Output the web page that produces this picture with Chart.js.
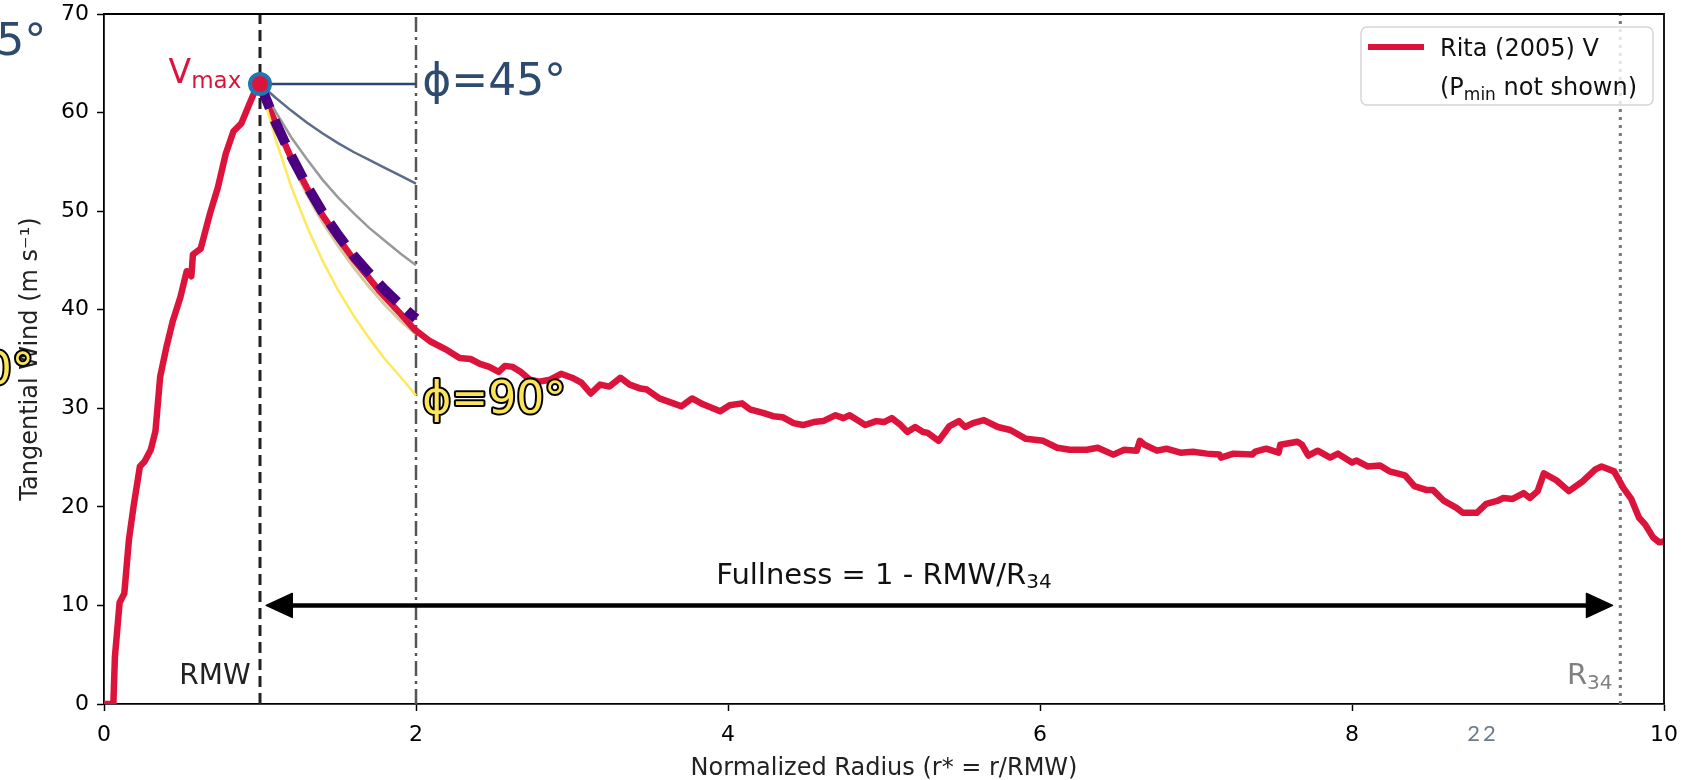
<!DOCTYPE html>
<html>
<head>
<meta charset="utf-8">
<script src="https://cdn.jsdelivr.net/npm/chart.js@4.4.1/dist/chart.umd.min.js"></script>
<style>
  html, body { margin: 0; padding: 0; background: #fff; }
  #wrap { width: 1685px; height: 780px; }
</style>
</head>
<body>
<div id="wrap"><canvas id="windChart" width="1685" height="780"></canvas></div>
<script>
// Rita (2005) tangential wind vs normalized radius
const ritaR = [0, 0.03, 0.06, 0.07, 0.10, 0.13, 0.16, 0.19, 0.23, 0.26, 0.30, 0.33, 0.36, 0.40, 0.44, 0.49, 0.53, 0.56, 0.57, 0.62, 0.68, 0.73, 0.78, 0.83, 0.88, 0.93, 0.97, 1.00,
  1.10, 1.20, 1.30, 1.40, 1.50, 1.60, 1.70, 1.76, 1.80, 1.90, 1.99,
  2.09, 2.20, 2.28, 2.35, 2.41, 2.47, 2.53, 2.57, 2.62, 2.67, 2.73, 2.79, 2.86, 2.93, 3.00, 3.06, 3.12, 3.18, 3.24, 3.31, 3.37, 3.44, 3.48, 3.56, 3.65, 3.70, 3.77, 3.84, 3.95, 4.01, 4.09, 4.14, 4.23, 4.29, 4.35,
  4.42, 4.48, 4.55, 4.61, 4.69, 4.74, 4.78, 4.88, 4.95, 5.00, 5.05, 5.10, 5.15, 5.20, 5.25, 5.28, 5.35, 5.42, 5.48, 5.52, 5.57, 5.64, 5.73, 5.81, 5.91, 6.02, 6.11, 6.19, 6.30, 6.37, 6.47, 6.54, 6.62, 6.64, 6.67, 6.75, 6.81, 6.90, 6.98,
  7.07, 7.15, 7.16, 7.24, 7.36, 7.38, 7.45, 7.53, 7.54, 7.65, 7.68, 7.72, 7.78, 7.86, 7.91, 8.00, 8.03, 8.10, 8.18, 8.24, 8.34, 8.40, 8.48, 8.52, 8.59, 8.67, 8.71, 8.80, 8.86, 8.93, 8.97, 9.03, 9.10, 9.14, 9.19, 9.23, 9.31, 9.39, 9.48, 9.56, 9.60, 9.68, 9.74, 9.79, 9.84, 9.88, 9.93, 9.97, 10.0];
const ritaV = [0, 0, 0, 4.8, 10.3, 11.2, 16.7, 20.1, 24.1, 24.6, 25.8, 27.7, 33.2, 36.2, 38.8, 41.3, 43.9, 43.4, 45.6, 46.2, 49.8, 52.4, 55.8, 58.1, 58.9, 60.8, 62.3, 62.9,
  58.9, 55.4, 52.4, 49.6, 47.3, 45.1, 43.2, 42.0, 41.3, 39.6, 38.0,
  36.8, 35.9, 35.1, 35.0, 34.5, 34.2, 33.7, 34.3, 34.2, 33.7, 32.9, 32.7, 32.9, 33.5, 33.1, 32.6, 31.5, 32.4, 32.2, 33.1, 32.4, 32.0, 31.9, 31.0, 30.5, 30.2, 31.0, 30.4, 29.7, 30.3, 30.5, 29.9, 29.5, 29.2, 29.1,
  28.5, 28.3, 28.6, 28.7, 29.3, 29.0, 29.3, 28.3, 28.7, 28.6, 29.0, 28.4, 27.6, 28.1, 27.6, 27.5, 26.7, 28.2, 28.7, 28.1, 28.5, 28.8, 28.1, 27.8, 26.9, 26.7, 26.0, 25.8, 25.8, 26.0, 25.3, 25.8, 25.7, 26.7, 26.3, 25.7, 25.9, 25.5, 25.6,
  25.4, 25.3, 25.0, 25.4, 25.3, 25.6, 25.9, 25.5, 26.3, 26.6, 26.3, 25.2, 25.7, 25.0, 25.4, 24.5, 24.7, 24.1, 24.2, 23.6, 23.2, 22.1, 21.7, 21.7, 20.6, 19.9, 19.4, 19.4, 20.3, 20.6, 20.9, 20.8, 21.4, 20.9, 21.6, 23.4, 22.7, 21.6, 22.6, 23.8, 24.1, 23.6, 21.9, 20.8, 18.9, 18.2, 16.9, 16.4, 16.5];

// decay curves between RMW and 2 RMW
const phiR = [1.0, 1.1, 1.2, 1.3, 1.4, 1.5, 1.6, 1.7, 1.8, 1.9, 2.0];
const slateV = [62.9, 61.5, 60.2, 59.0, 57.9, 56.9, 56.0, 55.2, 54.4, 53.6, 52.8];
const greyV = [62.9, 60.1, 57.5, 55.3, 53.2, 51.4, 49.8, 48.3, 47.0, 45.7, 44.5];
const tanV = [62.9, 58.7, 54.9, 51.7, 48.9, 46.5, 44.3, 42.3, 40.5, 38.9, 37.5];
const fitV = [62.9, 59.0, 55.6, 52.6, 49.9, 47.6, 45.5, 43.7, 42.0, 40.5, 39.1];
const yellowV = [62.9, 57.3, 52.5, 48.5, 45.0, 42.0, 39.4, 37.1, 35.0, 33.2, 31.3];

const vmax = { r: 1.0, v: 62.9 };
const rmw = 1.0;
const twoRmw = 2.0;
const r34 = 9.72;
const arrowSpan = [1.04, 9.67];
const arrowLevel = 10;

const xTicks = [0, 2, 4, 6, 8, 10];
const yTicks = [0, 10, 20, 30, 40, 50, 60, 70];

const FONT = "'DejaVu Sans', sans-serif";

function pts(xs, ys) {
  return xs.map((x, i) => ({ x: x, y: ys[i] }));
}

function vline(x) {
  return [{ x: x, y: 0 }, { x: x, y: 70 }];
}

// text with a subscript tail, aligned on its whole width
function drawSub(ctx, base, sub, x, y, size, color, align, subDrop) {
  ctx.font = size + "px " + FONT;
  const wb = ctx.measureText(base).width;
  const subSize = Math.round(size * 0.7);
  ctx.font = subSize + "px " + FONT;
  const ws = ctx.measureText(sub).width;
  let x0 = x;
  if (align === "right") x0 = x - wb - ws;
  if (align === "center") x0 = x - (wb + ws) / 2;
  ctx.fillStyle = color;
  ctx.textAlign = "left";
  ctx.textBaseline = "alphabetic";
  ctx.font = size + "px " + FONT;
  ctx.fillText(base, x0, y);
  ctx.font = subSize + "px " + FONT;
  ctx.fillText(sub, x0 + wb, y + (subDrop || size * 0.16));
  return x0 + wb + ws;
}

function outlined(ctx, text, x, y, size, fill, align) {
  ctx.font = size + "px " + FONT;
  ctx.textAlign = align;
  ctx.textBaseline = "alphabetic";
  ctx.lineJoin = "round";
  ctx.lineWidth = 4;
  ctx.strokeStyle = "#000";
  ctx.strokeText(text, x, y);
  ctx.fillStyle = fill;
  ctx.fillText(text, x, y);
}

const overlay = {
  id: "overlay",
  afterDatasetsDraw(chart) {
    const { ctx, chartArea: a } = chart;
    const xs = chart.scales.x, ys = chart.scales.y;
    ctx.save();

    // top and right spines
    ctx.strokeStyle = "#000";
    ctx.lineWidth = 1.8;
    ctx.beginPath();
    ctx.moveTo(a.left, a.top);
    ctx.lineTo(a.right, a.top);
    ctx.lineTo(a.right, a.bottom);
    ctx.stroke();

    // double headed fullness arrow
    const ay = ys.getPixelForValue(arrowLevel);
    const ax0 = xs.getPixelForValue(arrowSpan[0]);
    const ax1 = xs.getPixelForValue(arrowSpan[1]);
    const hl = 26, hw = 12;
    ctx.strokeStyle = "#000";
    ctx.fillStyle = "#000";
    ctx.lineWidth = 4.5;
    ctx.beginPath();
    ctx.moveTo(ax0 + hl - 2, ay);
    ctx.lineTo(ax1 - hl + 2, ay);
    ctx.stroke();
    ctx.lineJoin = "round";
    ctx.lineWidth = 1.5;
    ctx.beginPath();
    ctx.moveTo(ax0, ay);
    ctx.lineTo(ax0 + hl, ay - hw);
    ctx.lineTo(ax0 + hl, ay + hw);
    ctx.closePath();
    ctx.fill();
    ctx.stroke();
    ctx.beginPath();
    ctx.moveTo(ax1, ay);
    ctx.lineTo(ax1 - hl, ay - hw);
    ctx.lineTo(ax1 - hl, ay + hw);
    ctx.closePath();
    ctx.fill();
    ctx.stroke();

    drawSub(ctx, "Fullness = 1 - RMW/R", "34", xs.getPixelForValue(5.0), ys.getPixelForValue(12.2), 29, "#111", "center");

    // reference line labels
    ctx.font = "28px " + FONT;
    ctx.fillStyle = "#222";
    ctx.textAlign = "right";
    ctx.textBaseline = "alphabetic";
    ctx.fillText("RMW", xs.getPixelForValue(0.94), ys.getPixelForValue(2.0));
    drawSub(ctx, "R", "34", xs.getPixelForValue(9.67), ys.getPixelForValue(2.0), 29, "#808080", "right");

    // Vmax label
    drawSub(ctx, "V", "max", xs.getPixelForValue(0.88), ys.getPixelForValue(63.0), 33, "#dc143c", "right", 5);

    // phi labels
    ctx.font = "44px " + FONT;
    ctx.fillStyle = "#2e4a6e";
    ctx.textAlign = "left";
    ctx.fillText("\u03d5=45\u00b0", xs.getPixelForValue(2.04), ys.getPixelForValue(61.8));
    ctx.textAlign = "right";
    ctx.fillText("\u03d5=45\u00b0", xs.getPixelForValue(-0.37), ys.getPixelForValue(65.8));
    outlined(ctx, "\u03d5=90\u00b0", xs.getPixelForValue(2.04), ys.getPixelForValue(29.5), 44, "#fce45a", "left");
    outlined(ctx, "\u03d5=90\u00b0", xs.getPixelForValue(-0.45), ys.getPixelForValue(32.5), 44, "#fce45a", "right");

    // page number
    ctx.font = "22px 'Lato', " + FONT;
    ctx.fillStyle = "#6b7b8c";
    ctx.textAlign = "center";
    ctx.textBaseline = "middle";
    ctx.letterSpacing = "3px";
    ctx.fillText("22", xs.getPixelForValue(8.84), a.bottom + 30);
    ctx.letterSpacing = "0px";

    // legend
    const lx = a.right - 303, ly = a.top + 13, lw = 292, lh = 78;
    ctx.beginPath();
    ctx.roundRect(lx, ly, lw, lh, 6);
    ctx.fillStyle = "rgba(255,255,255,0.8)";
    ctx.fill();
    ctx.strokeStyle = "#d6d6d6";
    ctx.lineWidth = 1.5;
    ctx.stroke();
    ctx.strokeStyle = "#dc143c";
    ctx.lineWidth = 6;
    ctx.beginPath();
    ctx.moveTo(lx + 7, ly + 20);
    ctx.lineTo(lx + 63, ly + 20);
    ctx.stroke();
    ctx.font = "24px " + FONT;
    ctx.fillStyle = "#111";
    ctx.textAlign = "left";
    ctx.textBaseline = "alphabetic";
    ctx.fillText("Rita (2005) V", lx + 79, ly + 29);
    let nx = drawSub(ctx, "(P", "min", lx + 79, ly + 68, 24, "#111", "left", 5);
    ctx.font = "24px " + FONT;
    ctx.fillText(" not shown)", nx, ly + 68);

    ctx.restore();
  }
};

const ctx = document.getElementById("windChart").getContext("2d");
const windChart = new Chart(ctx, {
  type: "line",
  data: {
    datasets: [
      { label: "Vmax", data: [{ x: vmax.r, y: vmax.v }], showLine: false, pointRadius: 10, pointBackgroundColor: "#dc143c", pointBorderColor: "#1f77b4", pointBorderWidth: 4, order: 0 },
      { label: "phi45", data: [{ x: rmw, y: vmax.v }, { x: twoRmw, y: vmax.v }], borderColor: "#2c4770", borderWidth: 2.5, pointRadius: 0, order: 1 },
      { label: "fit", data: pts(phiR, fitV), borderColor: "#4b0082", borderWidth: 10, borderDash: [26, 13], pointRadius: 0, order: 2 },
      { label: "yellow", data: pts(phiR, yellowV), borderColor: "#fde95a", borderWidth: 2.5, pointRadius: 0, order: 3 },
      { label: "slate", data: pts(phiR, slateV), borderColor: "#5b6b8a", borderWidth: 2.5, pointRadius: 0, order: 4 },
      { label: "grey", data: pts(phiR, greyV), borderColor: "#999999", borderWidth: 2.5, pointRadius: 0, order: 5 },
      { label: "Rita (2005) V", data: pts(ritaR, ritaV), borderColor: "#dc143c", borderWidth: 6.5, pointRadius: 0, borderJoinStyle: "round", borderCapStyle: "round", order: 6 },
      { label: "tan", data: pts(phiR, tanV), borderColor: "#d6ca9e", borderWidth: 3, pointRadius: 0, order: 7 },
      { label: "RMW", data: vline(rmw), borderColor: "#222222", borderWidth: 3, borderDash: [11, 6], pointRadius: 0, order: 8 },
      { label: "2RMW", data: vline(twoRmw), borderColor: "#555555", borderWidth: 2.5, borderDash: [15, 5, 3, 5], pointRadius: 0, order: 9 },
      { label: "R34", data: vline(r34), borderColor: "#777777", borderWidth: 3, borderDash: [3, 5], pointRadius: 0, order: 10 }
    ]
  },
  options: {
    responsive: false,
    animation: false,
    layout: { padding: { top: 11, right: 21, left: 0, bottom: 0 } },
    plugins: { legend: { display: false }, tooltip: { enabled: false } },
    elements: { line: { tension: 0 } },
    scales: {
      x: {
        type: "linear", min: 0, max: 10,
        afterBuildTicks: (s) => { s.ticks = xTicks.map(v => ({ value: v })); },
        ticks: { color: "#000", font: { family: FONT, size: 22 }, padding: 11, maxRotation: 0 },
        grid: { drawOnChartArea: false, tickLength: 7, tickColor: "#000", tickWidth: 1.5 },
        border: { color: "#000", width: 1.8 },
        title: { display: true, text: "Normalized Radius (r* = r/RMW)", color: "#222", font: { family: FONT, size: 24 }, padding: { top: 0, bottom: -3 } },
        afterFit: (s) => { s.height = 76; s.paddingLeft = 0; s.paddingRight = 0; }
      },
      y: {
        type: "linear", min: 0, max: 70,
        afterBuildTicks: (s) => { s.ticks = yTicks.map(v => ({ value: v })); },
        ticks: { color: "#000", font: { family: FONT, size: 22 }, padding: 8 },
        grid: { drawOnChartArea: false, tickLength: 7, tickColor: "#000", tickWidth: 1.5 },
        border: { color: "#000", width: 1.8 },
        title: { display: true, text: "Tangential Wind (m s\u207b\u00b9)", color: "#222", font: { family: FONT, size: 24 }, padding: { top: 16, bottom: 0 } },
        afterFit: (s) => { s.width = 104; s.paddingTop = 0; s.paddingBottom = 0; }
      }
    }
  },
  plugins: [overlay]
});
</script>
</body>
</html>
